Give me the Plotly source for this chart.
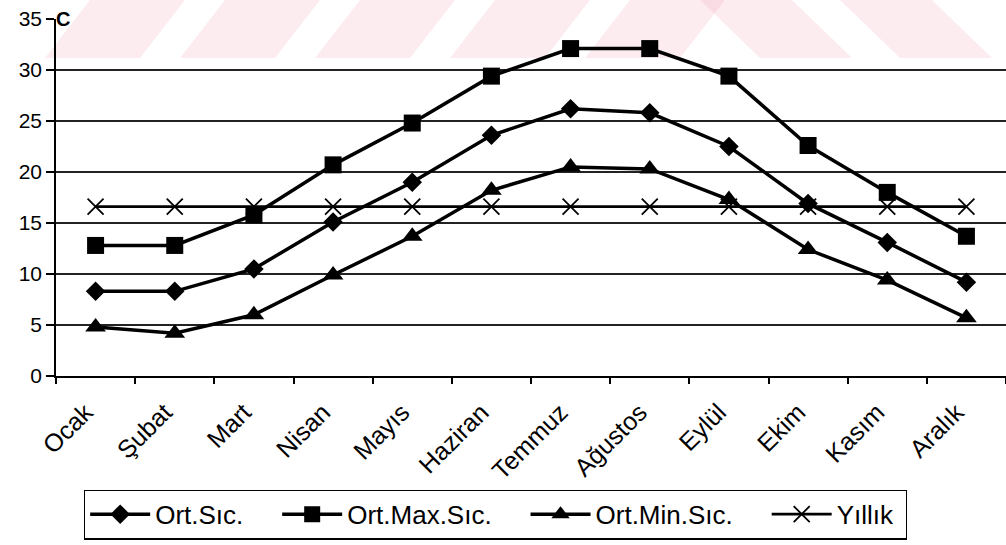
import plotly.graph_objects as go

months = ["Ocak", "Şubat", "Mart", "Nisan", "Mayıs", "Haziran",
          "Temmuz", "Ağustos", "Eylül", "Ekim", "Kasım", "Aralık"]
ort_sic = [8.3, 8.3, 10.5, 15.1, 19.0, 23.6, 26.2, 25.8, 22.5, 16.9, 13.1, 9.2]
ort_max = [12.8, 12.8, 15.8, 20.7, 24.8, 29.4, 32.1, 32.1, 29.4, 22.6, 18.0, 13.7]
ort_min = [4.8, 4.2, 6.0, 9.9, 13.7, 18.2, 20.5, 20.3, 17.3, 12.4, 9.4, 5.7]
yillik = [16.6] * 12
series_names = ["Ort.Sıc.", "Ort.Max.Sıc.", "Ort.Min.Sıc.", "Yıllık"]

W, H = 1006, 545
L, R, T, B = 56, 0, 19, 169
PW, PH = W - L - R, H - T - B

def px(x):
    return (x - L) / PW

def py(y):
    return (H - B - y) / PH

FONT = "Liberation Sans, Arial, sans-serif"
NB = "\u00a0"
fig = go.Figure()

markers = [
    dict(symbol="diamond", size=15, color="black"),
    dict(symbol="square", size=17, color="black"),
    dict(symbol="triangle-up", size=18, color="black"),
    dict(symbol="x-thin", size=16, color="black", line=dict(color="black", width=1.8)),
]
for i, (name, vals, mk) in enumerate(zip(series_names, [ort_sic, ort_max, ort_min, yillik], markers)):
    label = name + (NB * 4 if i < 3 else NB)
    fig.add_trace(go.Scatter(
        x=months, y=vals, name=label, mode="lines+markers",
        line=dict(color="black", width=3.5 if i < 3 else 2.8),
        marker=mk, cliponaxis=False,
    ))

# faint pink watermark stripes (scan artifact)
shapes = []
stripe_color = "rgba(240,150,170,0.18)"
top_py, bot_py = 0, 58
for x0 in [45, 180, 315, 450, 585]:
    x1 = x0 + 95
    d = 45
    shapes.append(dict(
        type="path", xref="paper", yref="paper", layer="below",
        path=f"M {px(x0)},{py(bot_py)} L {px(x1)},{py(bot_py)} L {px(x1 + d)},{py(top_py)} L {px(x0 + d)},{py(top_py)} Z",
        fillcolor=stripe_color, line=dict(width=0)))
for x0 in [700, 840]:
    x1 = x0 + 92
    d = 60
    shapes.append(dict(
        type="path", xref="paper", yref="paper", layer="below",
        path=f"M {px(x0)},{py(top_py)} L {px(x1)},{py(top_py)} L {px(x1 + d)},{py(bot_py)} L {px(x0 + d)},{py(bot_py)} Z",
        fillcolor=stripe_color, line=dict(width=0)))

fig.update_layout(
    width=W, height=H,
    margin=dict(l=L, r=R, t=T, b=B, pad=0),
    paper_bgcolor="white", plot_bgcolor="rgba(0,0,0,0)",
    font=dict(family=FONT, color="black", size=21),
    showlegend=True,
    legend=dict(
        orientation="h", x=0.4626, xanchor="center", y=-0.318, yanchor="top",
        bordercolor="black", borderwidth=1.2, bgcolor="white",
        font=dict(family=FONT, size=26, color="black"),
        itemwidth=60, entrywidth=0,
    ),
    shapes=shapes,
    annotations=[dict(text="<b>C</b>", xref="paper", yref="y", x=0, y=35,
                      xanchor="left", yanchor="middle", xshift=-2, showarrow=False,
                      font=dict(family=FONT, size=20, color="black"))],
)
fig.update_xaxes(
    type="category", range=[-0.5, 11.5], tickson="boundaries",
    ticks="outside", ticklen=6, tickcolor="black", tickwidth=1.5,
    showline=True, linecolor="black", linewidth=1.5,
    showgrid=False, tickangle=-45, tickfont=dict(size=25),
    ticklabelstandoff=10, ticklabelshift=-10,
)
fig.update_yaxes(
    range=[0, 35], dtick=5, tick0=0,
    ticks="outside", ticklen=8, tickcolor="black", tickwidth=1.5,
    showline=True, linecolor="black", linewidth=1.5,
    showgrid=True, gridcolor="#222", gridwidth=1.5,
    zeroline=False, tickfont=dict(size=21),
)

fig.write_html("out.html")
